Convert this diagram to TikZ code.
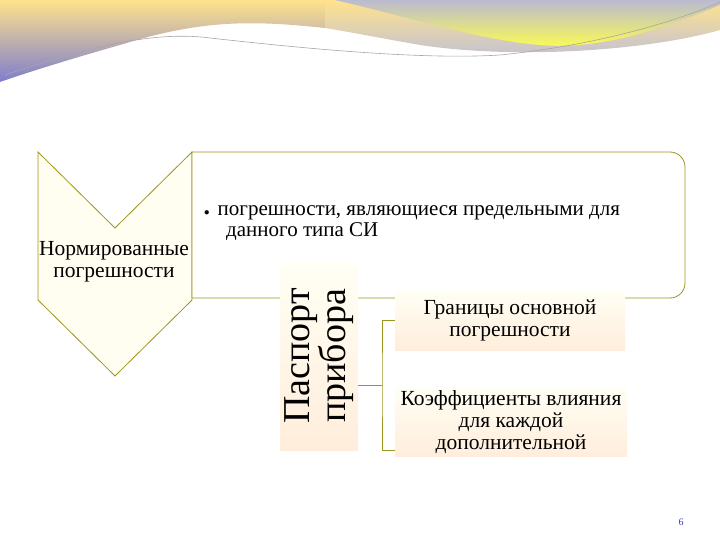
\documentclass[tikz,border=0pt]{standalone}
\usepackage{fontspec}
\setmainfont{Liberation Serif}
\begin{document}
\begin{tikzpicture}[x=1pt,y=-1pt,
  frame/.style={draw=olive!60!yellow!80!black, line width=0.8pt},
  pale/.style={top color=yellow!4, bottom color=orange!14},
  lbl/.style={font=\fontsize{21.5}{22}\selectfont, align=center},
  br/.style={draw=olive!60!yellow!80!black, line width=0.8pt}]
\useasboundingbox (0,0) rectangle (720,540);
% banner
\shade[top color=yellow!50!orange!45, bottom color=blue!45!gray!70]
  (0,0) -- (325,0) -- (325,28) .. controls (250,20) and (200,20) .. (120,45) .. controls (60,62) and (20,75) .. (0,82) -- cycle;
\shade[top color=yellow!50!orange!45, bottom color=blue!25!gray!40]
  (325,0) -- (720,0) -- (720,30) .. controls (650,50) and (520,60) .. (420,45) .. controls (380,38) and (350,32) .. (325,28) -- cycle;
\shade[top color=blue!20!gray!45, bottom color=yellow!70]
  (335,0) -- (720,0) -- (720,5) .. controls (660,30) and (600,50) .. (540,45) .. controls (480,40) and (420,20) .. (335,0) -- cycle;
\draw[gray!70, line width=0.6pt] (5,75) .. controls (80,50) and (150,30) .. (210,38) .. controls (300,48) and (420,60) .. (500,55) .. controls (600,45) and (680,20) .. (720,2);
% chevron
\path[frame, fill=yellow!6] (38,152) -- (115,228) -- (192,152) -- (192,300) -- (115,376) -- (38,300) -- cycle;
\node[lbl] (norm) at (114,262) {Нормированные\\погрешности};
% rounded box
\path[frame, fill=white] (192,152) -- (670,152) arc[start angle=-90,end angle=0,radius=15] -- ++(0,116) arc[start angle=0,end angle=90,radius=15] -- (192,298) -- cycle;
\node[font=\fontsize{21}{21}\selectfont, anchor=north west, align=left, inner sep=0pt] (bul) at (204,205) {{\fontsize{11}{11}\selectfont$\bullet$}\hspace{8pt}погрешности, являющиеся предельными для\\ \hspace{22pt}данного типа СИ};
% passport
\node[pale, minimum width=78pt, minimum height=188pt, inner sep=0pt] (pas) at (319,356) {};
\node[rotate=90, font=\fontsize{38}{31}\selectfont, align=center] (pastxt) at (pas.center) {Паспорт\\прибора};
% boxes
\node[pale, minimum width=230pt, minimum height=60pt, lbl] (b1) at (510,320) {Границы основной\\погрешности};
\node[pale, minimum width=232pt, minimum height=68pt, lbl] (b2) at (511,422) {Коэффициенты влияния\\для каждой\\дополнительной};
% bracket
\coordinate (jx) at (382,385);
\coordinate (t1) at (395,320);
\coordinate (t2) at (395,450);
\draw[br] (pas.east |- jx) -- (jx);
\draw[br] (t1) -| (jx) |- (t2);
\node[text=blue!60!gray, font=\fontsize{10}{10}\selectfont] (pg) at (681,522) {6};
\end{tikzpicture}
\end{document}
